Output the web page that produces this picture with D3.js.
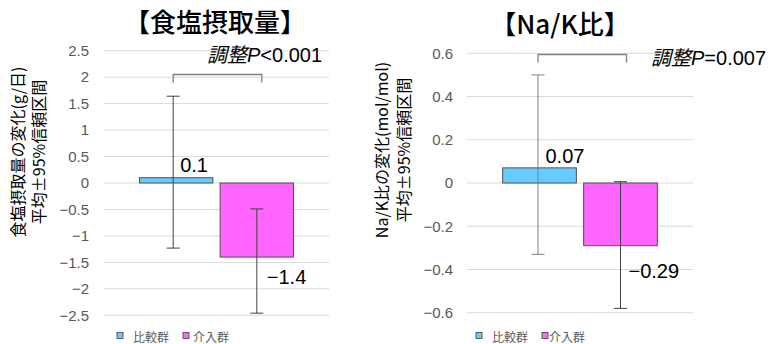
<!DOCTYPE html>
<html>
<head>
<meta charset="utf-8">
<script src="https://cdn.jsdelivr.net/npm/d3@7"></script>
<style>
  html, body { margin: 0; padding: 0; background: #fff; }
  svg { display: block; }
  .cjk { font-family: "Noto Sans CJK JP", "Noto Sans", sans-serif; }
  .num { font-family: "Liberation Sans", Arial, sans-serif; }
</style>
</head>
<body>
<svg id="chart" width="776" height="344"></svg>
<script>
// Series (groups)
const groups = ["比較群", "介入群"];
const groupColors = ["#66CCFF", "#FF66FF"];

// 食塩摂取量の変化 (g/日): mean and 95% CI
const saltMean  = [0.1, -1.4];
const saltLower = [-1.23, -2.46];
const saltUpper = [1.64, -0.49];
const saltTicks = [-2.5, -2, -1.5, -1, -0.5, 0, 0.5, 1, 1.5, 2, 2.5];

// Na/K比の変化 (mol/mol): mean and 95% CI
const nakMean  = [0.07, -0.29];
const nakLower = [-0.33, -0.58];
const nakUpper = [0.50, 0.006];
const nakTicks = [-0.6, -0.4, -0.2, 0, 0.2, 0.4, 0.6];

const svg = d3.select("#chart");
const fmt = d3.format("");

function drawChart(cfg) {
  const g = svg.append("g");
  const x = d3.scaleBand().domain(groups)
    .range([cfg.left, cfg.right]).paddingInner(0.09).paddingOuter(0.44);
  const y = d3.scaleLinear().domain(cfg.domain).range([cfg.bottom, cfg.top]);

  // gridlines
  g.append("g").selectAll("line").data(cfg.ticks).join("line")
    .attr("x1", cfg.left).attr("x2", cfg.right)
    .attr("y1", d => y(d)).attr("y2", d => y(d))
    .attr("stroke", "#d9d9d9").attr("stroke-width", 1);

  // y axis labels
  const axis = d3.axisLeft(y).tickValues(cfg.ticks).tickFormat(fmt).tickSize(0).tickPadding(cfg.tickPad);
  const ax = g.append("g").attr("transform", `translate(${cfg.left},0)`).call(axis);
  ax.select(".domain").remove();
  ax.selectAll("text").attr("class", "num").attr("font-size", 15).attr("fill", "#595959");

  // bars
  const rows = groups.map((k, i) => ({ k, i, m: cfg.mean[i], lo: cfg.lower[i], hi: cfg.upper[i] }));
  g.append("g").selectAll("rect").data(rows).join("rect")
    .attr("x", d => x(d.k)).attr("width", x.bandwidth())
    .attr("y", d => y(Math.max(0, d.m)))
    .attr("height", d => Math.abs(y(d.m) - y(0)))
    .attr("fill", d => groupColors[d.i])
    .attr("stroke", "#505050").attr("stroke-width", 1);

  // error bars
  const eb = g.append("g").selectAll("g").data(rows).join("g")
    .attr("stroke", (d, i) => cfg.errColors[i]).attr("stroke-width", 1);
  const cx = d => x(d.k) + x.bandwidth() / 2 + cfg.errShift[d.i];
  eb.append("line").attr("x1", cx).attr("x2", cx).attr("y1", d => y(d.hi)).attr("y2", d => y(d.lo));
  eb.append("line").attr("x1", d => cx(d) - 6.5).attr("x2", d => cx(d) + 6.5).attr("y1", d => y(d.hi)).attr("y2", d => y(d.hi));
  eb.append("line").attr("x1", d => cx(d) - 6.5).attr("x2", d => cx(d) + 6.5).attr("y1", d => y(d.lo)).attr("y2", d => y(d.lo));

  // value labels
  g.append("g").selectAll("text").data(rows).join("text")
    .attr("class", "num").attr("font-size", 20).attr("fill", "#000")
    .attr("x", d => x(d.k) + x.bandwidth() / 2 + cfg.labelDx[d.i])
    .attr("y", d => y(d.m) + cfg.labelDy[d.i])
    .text(d => fmt(d.m));

  // significance bracket
  const bx1 = x(groups[0]) + x.bandwidth() / 2 + cfg.errShift[0];
  const bx2 = x(groups[1]) + x.bandwidth() / 2 + cfg.bracketExtra;
  g.append("path")
    .attr("d", `M${bx1},${cfg.bracketY + 8}V${cfg.bracketY}H${bx2}V${cfg.bracketY + 8}`)
    .attr("fill", "none").attr("stroke", "#808080").attr("stroke-width", 1.3);

  const t = g.append("text").attr("x", cfg.pX).attr("y", cfg.pY).attr("font-size", 20).attr("fill", "#000");
  t.append("tspan").attr("class", "cjk").attr("font-style", "italic").text("調整");
  t.append("tspan").attr("class", "num").attr("font-style", "italic").text("P");
  t.append("tspan").attr("class", "num").text(cfg.pText);

  // title
  g.append("text").attr("class", "cjk").attr("x", cfg.titleX).attr("y", cfg.titleY)
    .attr("text-anchor", "middle").attr("font-size", 26).attr("font-weight", 500)
    .attr("fill", "#000").text(cfg.title);

  // y-axis title (two lines); x values are the baselines of the rotated lines
  cfg.yTitle.forEach((line, i) => {
    g.append("text").attr("class", "cjk")
      .attr("transform", `translate(${cfg.yTitleX[i]},${cfg.yTitleCY}) rotate(-90)`)
      .attr("text-anchor", "middle")
      .attr("font-size", 16).attr("fill", "#000").text(line);
  });

  // legend
  const lg = g.append("g").selectAll("g").data(groups).join("g")
    .attr("transform", (d, i) => `translate(${cfg.legendX[i]},${cfg.legendY})`);
  lg.append("rect").attr("x", 0).attr("y", -3.5).attr("width", 6).attr("height", 6)
    .attr("fill", (d, i) => groupColors[i]).attr("stroke", "#404040").attr("stroke-width", 0.8);
  lg.append("text").attr("class", "cjk").attr("x", (d, i) => cfg.legendTextDx[i]).attr("y", 0)
    .attr("dominant-baseline", "central").attr("font-size", 12).attr("fill", "#595959").text(d => d);
}

drawChart({
  left: 104, right: 329, top: 50.7, bottom: 315.3, domain: [-2.5, 2.5], ticks: saltTicks, tickPad: 15,
  mean: saltMean, lower: saltLower, upper: saltUpper,
  errColors: ["#404040", "#404040"], errShift: [-3, 0],
  labelDx: [4, 10], labelDy: [-6, 27],
  bracketY: 74.5, bracketExtra: 5,
  pX: 207, pY: 62, pText: "<0.001",
  title: "【食塩摂取量】", titleX: 215, titleY: 32,
  yTitle: ["食塩摂取量の変化(g/日)", "平均±95%信頼区間"], yTitleX: [24, 45], yTitleCY: 152,
  legendX: [117, 183], legendTextDx: [16, 10], legendY: 336
});

drawChart({
  left: 467, right: 693, top: 53.3, bottom: 312.7, domain: [-0.6, 0.6], ticks: nakTicks, tickPad: 14,
  mean: nakMean, lower: nakLower, upper: nakUpper,
  errColors: ["#808080", "#404040"], errShift: [-1.5, 0],
  labelDx: [6, 8], labelDy: [-5, 32],
  bracketY: 54.5, bracketExtra: 6,
  pX: 651, pY: 65, pText: "=0.007",
  title: "【Na/K比】", titleX: 560, titleY: 34,
  yTitle: ["Na/K比の変化(mol/mol)", "平均±95%信頼区間"], yTitleX: [388, 410], yTitleCY: 150,
  legendX: [476, 542], legendTextDx: [16, 7], legendY: 336
});
</script>
</body>
</html>
